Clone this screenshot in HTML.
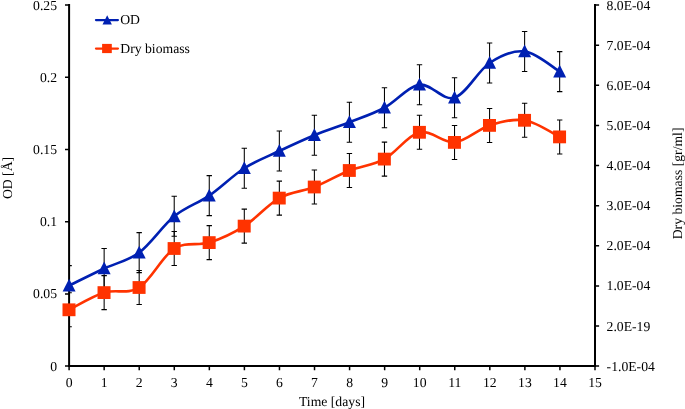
<!DOCTYPE html>
<html><head><meta charset="utf-8"><title>chart</title>
<style>html,body{margin:0;padding:0;background:#fff}svg{display:block}text{font-family:"Liberation Serif","Times New Roman",serif;font-size:13.7px;fill:#000;text-rendering:geometricPrecision}</style></head><body>
<svg width="685" height="409" viewBox="0 0 685 409">
<rect width="685" height="409" fill="#fff"/>
<defs><clipPath id="pc"><rect x="69.1" y="0" width="530" height="409"/></clipPath></defs>
<path clip-path="url(#pc)" d="M69.10,265.60V305.60M66.40,265.60h5.4M66.40,305.60h5.4M104.14,248.50V288.50M101.44,248.50h5.4M101.44,288.50h5.4M139.18,232.60V272.60M136.48,232.60h5.4M136.48,272.60h5.4M174.22,196.30V236.30M171.52,196.30h5.4M171.52,236.30h5.4M209.26,175.60V215.60M206.56,175.60h5.4M206.56,215.60h5.4M244.30,148.25V188.25M241.60,148.25h5.4M241.60,188.25h5.4M279.34,131.00V171.00M276.64,131.00h5.4M276.64,171.00h5.4M314.38,115.25V155.25M311.68,115.25h5.4M311.68,155.25h5.4M349.42,102.25V142.25M346.72,102.25h5.4M346.72,142.25h5.4M384.46,87.75V127.75M381.76,87.75h5.4M381.76,127.75h5.4M419.50,64.75V104.75M416.80,64.75h5.4M416.80,104.75h5.4M454.54,77.75V117.75M451.84,77.75h5.4M451.84,117.75h5.4M489.58,43.00V83.00M486.88,43.00h5.4M486.88,83.00h5.4M524.62,31.40V71.40M521.92,31.40h5.4M521.92,71.40h5.4M559.66,51.60V91.60M556.96,51.60h5.4M556.96,91.60h5.4" stroke="#000" stroke-width="1.05" fill="none"/>
<path clip-path="url(#pc)" d="M69.10,292.80V326.80M66.40,292.80h5.4M66.40,326.80h5.4M104.14,275.60V309.60M101.44,275.60h5.4M101.44,309.60h5.4M139.18,270.50V304.50M136.48,270.50h5.4M136.48,304.50h5.4M174.22,231.50V265.50M171.52,231.50h5.4M171.52,265.50h5.4M209.26,225.60V259.60M206.56,225.60h5.4M206.56,259.60h5.4M244.30,209.10V243.10M241.60,209.10h5.4M241.60,243.10h5.4M279.34,181.10V215.10M276.64,181.10h5.4M276.64,215.10h5.4M314.38,170.00V204.00M311.68,170.00h5.4M311.68,204.00h5.4M349.42,153.50V187.50M346.72,153.50h5.4M346.72,187.50h5.4M384.46,142.10V176.10M381.76,142.10h5.4M381.76,176.10h5.4M419.50,115.30V149.30M416.80,115.30h5.4M416.80,149.30h5.4M454.54,125.40V159.40M451.84,125.40h5.4M451.84,159.40h5.4M489.58,108.40V142.40M486.88,108.40h5.4M486.88,142.40h5.4M524.62,103.30V137.30M521.92,103.30h5.4M521.92,137.30h5.4M559.66,119.90V153.90M556.96,119.90h5.4M556.96,153.90h5.4" stroke="#000" stroke-width="1.05" fill="none"/>
<g stroke="#000" stroke-width="2" fill="none">
<path d="M69.10,4.10V367.10"/>
<path d="M68.10,366.10H596.00"/>
<path d="M595.00,4.10V367.10"/>
</g>
<path d="M69.10,366.10h-4.1M69.10,293.90h-4.1M69.10,221.70h-4.1M69.10,149.50h-4.1M69.10,77.30h-4.1M69.10,5.10h-4.1M595.00,366.10h4.1M595.00,325.99h4.1M595.00,285.88h4.1M595.00,245.77h4.1M595.00,205.66h4.1M595.00,165.54h4.1M595.00,125.43h4.1M595.00,85.32h4.1M595.00,45.21h4.1M595.00,5.10h4.1M69.10,366.10v4.2M104.16,366.10v4.2M139.22,366.10v4.2M174.28,366.10v4.2M209.34,366.10v4.2M244.40,366.10v4.2M279.46,366.10v4.2M314.52,366.10v4.2M349.58,366.10v4.2M384.64,366.10v4.2M419.70,366.10v4.2M454.76,366.10v4.2M489.82,366.10v4.2M524.88,366.10v4.2M559.94,366.10v4.2M595.00,366.10v4.2" stroke="#000" stroke-width="1.5" fill="none"/>
<path d="M69.10,285.60 C74.94,282.75 92.46,274.00 104.14,268.50 C115.82,263.00 127.50,261.30 139.18,252.60 C150.86,243.90 162.54,225.80 174.22,216.30 C185.90,206.80 197.58,203.61 209.26,195.60 C220.94,187.59 232.62,175.68 244.30,168.25 C255.98,160.82 267.66,156.50 279.34,151.00 C291.02,145.50 302.70,140.04 314.38,135.25 C326.06,130.46 337.74,126.83 349.42,122.25 C361.10,117.67 372.78,114.00 384.46,107.75 C396.14,101.50 407.82,86.42 419.50,84.75 C431.18,83.08 442.86,101.38 454.54,97.75 C466.22,94.12 477.90,70.72 489.58,63.00 C501.26,55.27 512.94,49.97 524.62,51.40 C536.30,52.83 553.82,68.23 559.66,71.60" stroke="#0020b2" stroke-width="2.6" fill="none" stroke-linecap="round" stroke-linejoin="round"/>
<path d="M69.10,309.80 C74.94,306.93 92.46,296.32 104.14,292.60 C115.82,288.88 127.50,294.85 139.18,287.50 C150.86,280.15 162.54,255.98 174.22,248.50 C185.90,241.02 197.58,246.33 209.26,242.60 C220.94,238.87 232.62,233.52 244.30,226.10 C255.98,218.68 267.66,204.62 279.34,198.10 C291.02,191.58 302.70,191.60 314.38,187.00 C326.06,182.40 337.74,175.15 349.42,170.50 C361.10,165.85 372.78,165.47 384.46,159.10 C396.14,152.73 407.82,135.08 419.50,132.30 C431.18,129.52 442.86,143.55 454.54,142.40 C466.22,141.25 477.90,129.08 489.58,125.40 C501.26,121.72 512.94,118.38 524.62,120.30 C536.30,122.22 553.82,134.13 559.66,136.90" stroke="#ff3300" stroke-width="2.6" fill="none" stroke-linecap="round" stroke-linejoin="round"/>
<rect x="62.50" y="303.40" width="13" height="12.8" fill="#ff3300"/>
<rect x="97.54" y="286.20" width="13" height="12.8" fill="#ff3300"/>
<rect x="132.58" y="281.10" width="13" height="12.8" fill="#ff3300"/>
<rect x="167.62" y="242.10" width="13" height="12.8" fill="#ff3300"/>
<rect x="202.66" y="236.20" width="13" height="12.8" fill="#ff3300"/>
<rect x="237.70" y="219.70" width="13" height="12.8" fill="#ff3300"/>
<rect x="272.74" y="191.70" width="13" height="12.8" fill="#ff3300"/>
<rect x="307.78" y="180.60" width="13" height="12.8" fill="#ff3300"/>
<rect x="342.82" y="164.10" width="13" height="12.8" fill="#ff3300"/>
<rect x="377.86" y="152.70" width="13" height="12.8" fill="#ff3300"/>
<rect x="412.90" y="125.90" width="13" height="12.8" fill="#ff3300"/>
<rect x="447.94" y="136.00" width="13" height="12.8" fill="#ff3300"/>
<rect x="482.98" y="119.00" width="13" height="12.8" fill="#ff3300"/>
<rect x="518.02" y="113.90" width="13" height="12.8" fill="#ff3300"/>
<rect x="553.06" y="130.50" width="13" height="12.8" fill="#ff3300"/>
<path d="M69.10,278.70L75.60,291.45L62.60,291.45Z" fill="#0020b2"/>
<path d="M104.14,261.60L110.64,274.35L97.64,274.35Z" fill="#0020b2"/>
<path d="M139.18,245.70L145.68,258.45L132.68,258.45Z" fill="#0020b2"/>
<path d="M174.22,209.40L180.72,222.15L167.72,222.15Z" fill="#0020b2"/>
<path d="M209.26,188.70L215.76,201.45L202.76,201.45Z" fill="#0020b2"/>
<path d="M244.30,161.35L250.80,174.10L237.80,174.10Z" fill="#0020b2"/>
<path d="M279.34,144.10L285.84,156.85L272.84,156.85Z" fill="#0020b2"/>
<path d="M314.38,128.35L320.88,141.10L307.88,141.10Z" fill="#0020b2"/>
<path d="M349.42,115.35L355.92,128.10L342.92,128.10Z" fill="#0020b2"/>
<path d="M384.46,100.85L390.96,113.60L377.96,113.60Z" fill="#0020b2"/>
<path d="M419.50,77.85L426.00,90.60L413.00,90.60Z" fill="#0020b2"/>
<path d="M454.54,90.85L461.04,103.60L448.04,103.60Z" fill="#0020b2"/>
<path d="M489.58,56.10L496.08,68.85L483.08,68.85Z" fill="#0020b2"/>
<path d="M524.62,44.50L531.12,57.25L518.12,57.25Z" fill="#0020b2"/>
<path d="M559.66,64.70L566.16,77.45L553.16,77.45Z" fill="#0020b2"/>
<path d="M96,20.1H117.9" stroke="#0020b2" stroke-width="2.3" stroke-linecap="round"/>
<path d="M107.2,15.3L111.9,24.6L102.5,24.6Z" fill="#0020b2"/>
<path d="M96,48.6H117.9" stroke="#ff3300" stroke-width="2.3" stroke-linecap="round"/>
<rect x="102.1" y="43.9" width="9.7" height="9.2" fill="#ff3300"/>
<text x="120.2" y="24">OD</text>
<text x="120.3" y="52.7">Dry biomass</text>
<text x="57" y="370.60" text-anchor="end">0</text>
<text x="57" y="298.40" text-anchor="end">0.05</text>
<text x="57" y="226.20" text-anchor="end">0.1</text>
<text x="57" y="154.00" text-anchor="end">0.15</text>
<text x="57" y="81.80" text-anchor="end">0.2</text>
<text x="57" y="9.60" text-anchor="end">0.25</text>
<text x="606.6" y="370.70">-1.0E-04</text>
<text x="606.6" y="330.59">2.0E-19</text>
<text x="606.6" y="290.48">1.0E-04</text>
<text x="606.6" y="250.37">2.0E-04</text>
<text x="606.6" y="210.26">3.0E-04</text>
<text x="606.6" y="170.14">4.0E-04</text>
<text x="606.6" y="130.03">5.0E-04</text>
<text x="606.6" y="89.92">6.0E-04</text>
<text x="606.6" y="49.81">7.0E-04</text>
<text x="606.6" y="9.70">8.0E-04</text>
<text x="69.10" y="387" text-anchor="middle">0</text>
<text x="104.16" y="387" text-anchor="middle">1</text>
<text x="139.22" y="387" text-anchor="middle">2</text>
<text x="174.28" y="387" text-anchor="middle">3</text>
<text x="209.34" y="387" text-anchor="middle">4</text>
<text x="244.40" y="387" text-anchor="middle">5</text>
<text x="279.46" y="387" text-anchor="middle">6</text>
<text x="314.52" y="387" text-anchor="middle">7</text>
<text x="349.58" y="387" text-anchor="middle">8</text>
<text x="384.64" y="387" text-anchor="middle">9</text>
<text x="419.70" y="387" text-anchor="middle">10</text>
<text x="454.76" y="387" text-anchor="middle">11</text>
<text x="489.82" y="387" text-anchor="middle">12</text>
<text x="524.88" y="387" text-anchor="middle">13</text>
<text x="559.94" y="387" text-anchor="middle">14</text>
<text x="595.00" y="387" text-anchor="middle">15</text>
<text x="332" y="406" text-anchor="middle">Time [days]</text>
<text transform="translate(12.3,178) rotate(-90)" text-anchor="middle">OD [Å]</text>
<text transform="translate(682,183.4) rotate(-90)" text-anchor="middle">Dry biomass [gr/ml]</text>
</svg></body></html>
